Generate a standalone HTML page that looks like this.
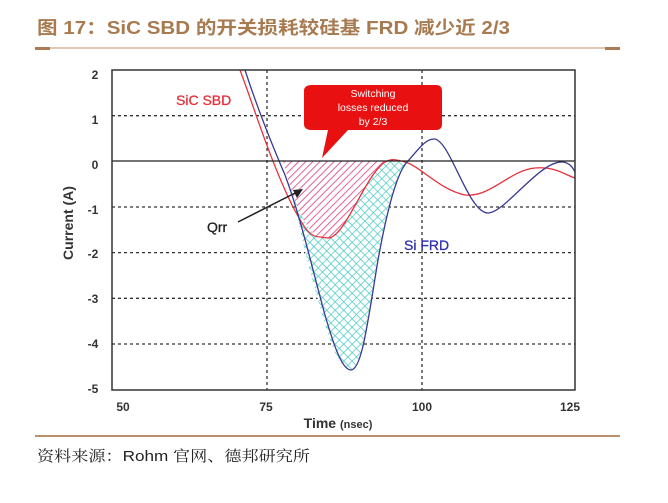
<!DOCTYPE html>
<html><head><meta charset="utf-8"><style>
html,body{margin:0;padding:0;background:#fff;width:668px;height:503px;overflow:hidden}
svg{display:block}
</style></head><body>
<svg width="668" height="503" viewBox="0 0 668 503" xmlns="http://www.w3.org/2000/svg">
<defs>
<pattern id="pk" width="5" height="5" patternUnits="userSpaceOnUse" patternTransform="rotate(45)">
<rect width="5" height="5" fill="#fff"/>
<line x1="0" y1="0" x2="0" y2="5" stroke="#e0508a" stroke-width="1.8"/>
</pattern>
<pattern id="cy" width="6" height="6" patternUnits="userSpaceOnUse" patternTransform="rotate(45)">
<rect width="6" height="6" fill="#fff"/>
<line x1="0" y1="0" x2="0" y2="6" stroke="#40c8c0" stroke-width="1.4"/>
<line x1="0" y1="0" x2="6" y2="0" stroke="#40c8c0" stroke-width="1.4"/>
</pattern>
<clipPath id="pc"><rect x="112" y="70" width="463" height="320"/></clipPath>
</defs>
<text x="37" y="34" textLength="473" lengthAdjust="spacingAndGlyphs" font-family="Liberation Sans, Noto Sans CJK SC, sans-serif" font-size="18" font-weight="bold" fill="#a87a50">图 17：SiC SBD 的开关损耗较硅基 FRD 减少近 2/3</text>
<line x1="35" y1="48" x2="620" y2="48" stroke="#c09070" stroke-width="1"/>
<rect x="35" y="47" width="15" height="3" fill="#b07a50"/>
<rect x="605" y="47" width="15" height="3" fill="#b07a50"/>

<g stroke="#333" stroke-width="1.3" stroke-dasharray="3,3">
<line x1="112" y1="115.7" x2="575" y2="115.7"/>
<line x1="112" y1="207" x2="575" y2="207"/>
<line x1="112" y1="252.6" x2="575" y2="252.6"/>
<line x1="112" y1="298.3" x2="575" y2="298.3"/>
<line x1="112" y1="344" x2="575" y2="344"/>
<line x1="267" y1="70" x2="267" y2="390"/>
<line x1="422" y1="70" x2="422" y2="390"/>
</g>
<g clip-path="url(#pc)">
<path d="M283,161 C295,195 300,240 318,300 C330,345 340,370 351,370 C362,370 368,320 378,260 C388,205 398,170 408,161 Z" fill="url(#cy)"/>
<path d="M283,161 L408,161 C398,162 392,158 385,162 C365,175 345,238 328,238 L320,237 C310,235 300,215 291,190 Z" fill="url(#pk)"/>
<path d="M240,70 C255,110 270,160 292,205 C305,230 310,237 320,237 L328,238 C345,238 365,175 385,162 C392,158 398,160 405,162 C420,166 440,190 465,195 C490,198 510,170 535,168 C555,166 565,175 575,178" fill="none" stroke="#e8303a" stroke-width="1.3"/>
<path d="M245,70 C258,110 270,140 285,175 C300,215 310,260 325,315 C335,350 343,370 351,370 C362,370 368,320 378,260 C388,205 398,170 408,161 C418,150 425,139 434,139 C450,139 468,213 488,213 C505,213 540,160 563,162 C570,163 573,168 575,172" fill="none" stroke="#3a3a90" stroke-width="1.3"/>
</g>
<line x1="112" y1="161" x2="575" y2="161" stroke="#222" stroke-width="1.3"/>
<rect x="112" y="70" width="463" height="320" fill="none" stroke="#333" stroke-width="1.5"/>

<path d="M312,85 H436 Q442,85 442,91 V124 Q442,130 436,130 H348 L322,158 L328,130 H312 Q304,130 304,124 V91 Q304,85 312,85 Z" fill="#e81010"/>
<g font-family="Liberation Sans, sans-serif" font-size="10.5" fill="#fff" text-anchor="middle">
<text x="373" y="97">Switching</text>
<text x="373" y="111">losses reduced</text>
<text x="373" y="125">by 2/3</text>
</g>
<text x="176" y="105" font-family="Liberation Sans, sans-serif" font-size="14" fill="#e8303a" stroke="#e8303a" stroke-width="0.3">SiC SBD</text>
<text x="404" y="250" font-family="Liberation Sans, sans-serif" font-size="14" fill="#3030b0" stroke="#3030b0" stroke-width="0.3">Si FRD</text>
<text x="207" y="232" font-family="Liberation Sans, sans-serif" font-size="14" fill="#222" stroke="#222" stroke-width="0.3">Qrr</text>
<line x1="238" y1="222" x2="297" y2="192" stroke="#222" stroke-width="1.5"/>
<path d="M303,189 L293,190 L297,198 Z" fill="#222"/>

<g font-family="Liberation Sans, sans-serif" font-size="12" font-weight="bold" fill="#333" text-anchor="middle">
<text x="95" y="79">2</text>
<text x="95" y="124">1</text>
<text x="95" y="169">0</text>
<text x="93" y="214">-1</text>
<text x="93" y="258">-2</text>
<text x="93" y="303">-3</text>
<text x="93" y="348">-4</text>
<text x="93" y="393">-5</text>
<text x="123" y="411">50</text>
<text x="266" y="411">75</text>
<text x="422" y="411">100</text>
<text x="570" y="411">125</text>
</g>
<text x="338" y="428" font-family="Liberation Sans, sans-serif" font-size="14" font-weight="bold" fill="#333" text-anchor="middle">Time <tspan font-size="11">(nsec)</tspan></text>
<text transform="translate(73,223) rotate(-90)" font-family="Liberation Sans, sans-serif" font-size="14" font-weight="bold" fill="#333" text-anchor="middle">Current (A)</text>

<line x1="35" y1="436" x2="620" y2="436" stroke="#b8906c" stroke-width="2"/>
<text x="37" y="461" textLength="273" lengthAdjust="spacingAndGlyphs" font-family="Liberation Sans, Noto Serif CJK SC, serif" font-size="15" fill="#222">资料来源：<tspan font-family="Liberation Sans, sans-serif">Rohm</tspan> 官网、德邦研究所</text>
</svg>
</body></html>
